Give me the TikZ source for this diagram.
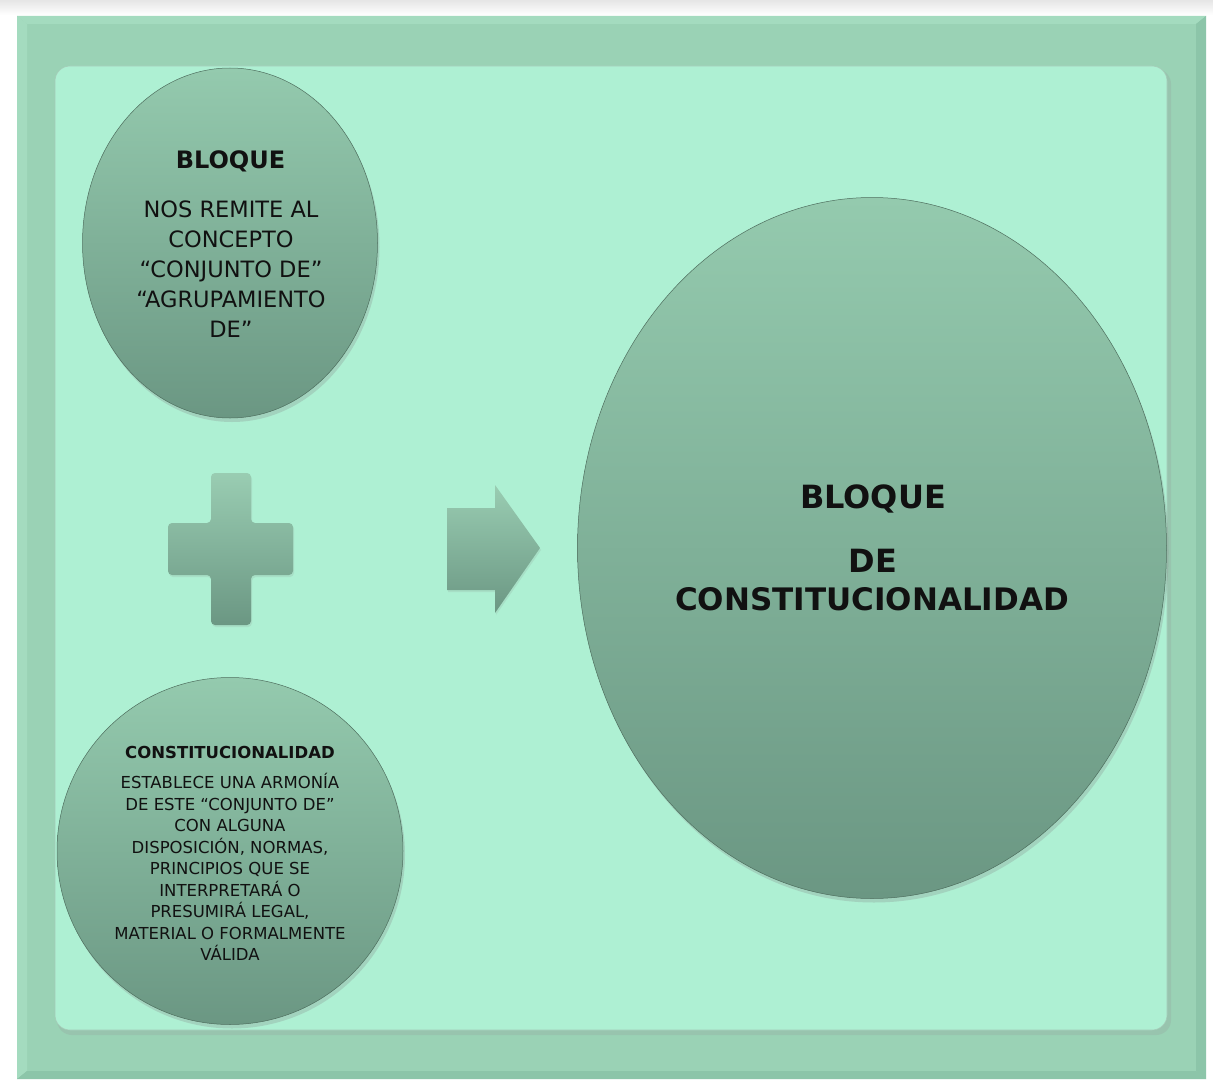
\documentclass[tikz,border=0pt]{standalone}
\usepackage{fontspec}
\setmainfont{DejaVu Sans}
\usetikzlibrary{shapes.geometric,shadows}
\definecolor{framegreen}{HTML}{9AD2B5}
\definecolor{framelight}{HTML}{A4DBBF}
\definecolor{framedark}{HTML}{8CC5A9}
\definecolor{panelgreen}{HTML}{AEF0D3}
\definecolor{paneledge}{HTML}{7FB59A}
\definecolor{shapetop}{HTML}{94CAAE}
\definecolor{shapebottom}{HTML}{6B9783}
\definecolor{outlinegreen}{HTML}{4E6E5E}
\definecolor{inktext}{HTML}{111111}
\begin{document}
\begin{tikzpicture}[x=1pt,y=-1pt,
  shapefill/.style={top color=shapetop, bottom color=shapebottom},
  bubble/.style={ellipse, inner sep=0pt, shapefill, draw=outlinegreen, line width=0.5pt,
    drop shadow={opacity=0.25, shadow xshift=2pt, shadow yshift=-4pt}},
  symbolshape/.style={top color=shapetop!95!white, bottom color=shapebottom,
    drop shadow={opacity=0.15, shadow xshift=1pt, shadow yshift=-2pt}},
  titletext/.style={text=inktext, inner sep=0pt, anchor=base, font=\bfseries\fontsize{24}{30}\selectfont},
  bodytext/.style={text=inktext, inner sep=0pt, anchor=north, align=center},
  bigtext/.style={text=inktext, inner sep=0pt, anchor=base, font=\bfseries\fontsize{31}{40}\selectfont}]
\useasboundingbox (0,0) rectangle (1213,1081);
\fill[white] (0,0) rectangle (1213,1081);
\shade[top color=black!10, bottom color=white] (0,0) rectangle (1213,15);
% frame with bevel
\fill[framegreen] (17,16) rectangle (1206,1079);
\fill[framelight] (17,16) -- (1206,16) -- (1196,24) -- (27,24) -- cycle;
\fill[framelight] (17,16) -- (27,24) -- (27,1071) -- (17,1079) -- cycle;
\fill[framedark] (1206,16) -- (1206,1079) -- (1196,1071) -- (1196,24) -- cycle;
\fill[framedark] (17,1079) -- (1206,1079) -- (1196,1071) -- (27,1071) -- cycle;
% inner panel
\fill[paneledge!80, rounded corners=15pt] (57,69) rectangle (1171,1035);
\fill[panelgreen, rounded corners=15pt, draw=paneledge!70, line width=0.6pt] (55,66) rectangle (1167,1030);
% circles
\node[bubble, minimum width=295pt, minimum height=350pt] (bloque) at (230,243) {};
\node[bubble, minimum width=346pt, minimum height=347pt] (constit) at (230,851) {};
\node[bubble, minimum width=589pt, minimum height=701pt] (bloquede) at (872,548) {};
% plus sign
\path[symbolshape, rounded corners=4pt] (211,473) -- (251,473) -- (251,523) -- (293,523) -- (293,575) -- (251,575) -- (251,625) -- (211,625) -- (211,575) -- (168,575) -- (168,523) -- (211,523) -- cycle;
% arrow
\path[symbolshape] (447,508) -- (495,508) -- (495,485) -- (540,548) -- (495,613) -- (495,590) -- (447,590) -- cycle;
% texts of top circle
\node[titletext] (t1) at (230.5,168) {BLOQUE};
\node[bodytext, font=\fontsize{22.5}{30}\selectfont] (b1) at (231,200.5)
  {NOS REMITE AL\\CONCEPTO\\“CONJUNTO DE”\\“AGRUPAMIENTO\\DE”};
% texts of bottom circle
\node[titletext, font=\bfseries\fontsize{16.5}{21}\selectfont] (t2) at (230,758) {CONSTITUCIONALIDAD};
\node[bodytext, font=\fontsize{16.5}{21.5}\selectfont] (b2) at (230,773)
  {ESTABLECE UNA ARMONÍA\\DE ESTE “CONJUNTO DE”\\CON ALGUNA\\DISPOSICIÓN, NORMAS,\\PRINCIPIOS QUE SE\\INTERPRETARÁ O\\PRESUMIRÁ LEGAL,\\MATERIAL O FORMALMENTE\\VÁLIDA};
% texts of big circle
\node[bigtext, font=\bfseries\fontsize{32}{40}\selectfont] (l1) at (873,508) {BLOQUE};
\node[bigtext, font=\bfseries\fontsize{32}{40}\selectfont] (l2) at (873,572) {DE};
\node[bigtext] (l3) at (872,610) {CONSTITUCIONALIDAD};
\end{tikzpicture}
\end{document}
